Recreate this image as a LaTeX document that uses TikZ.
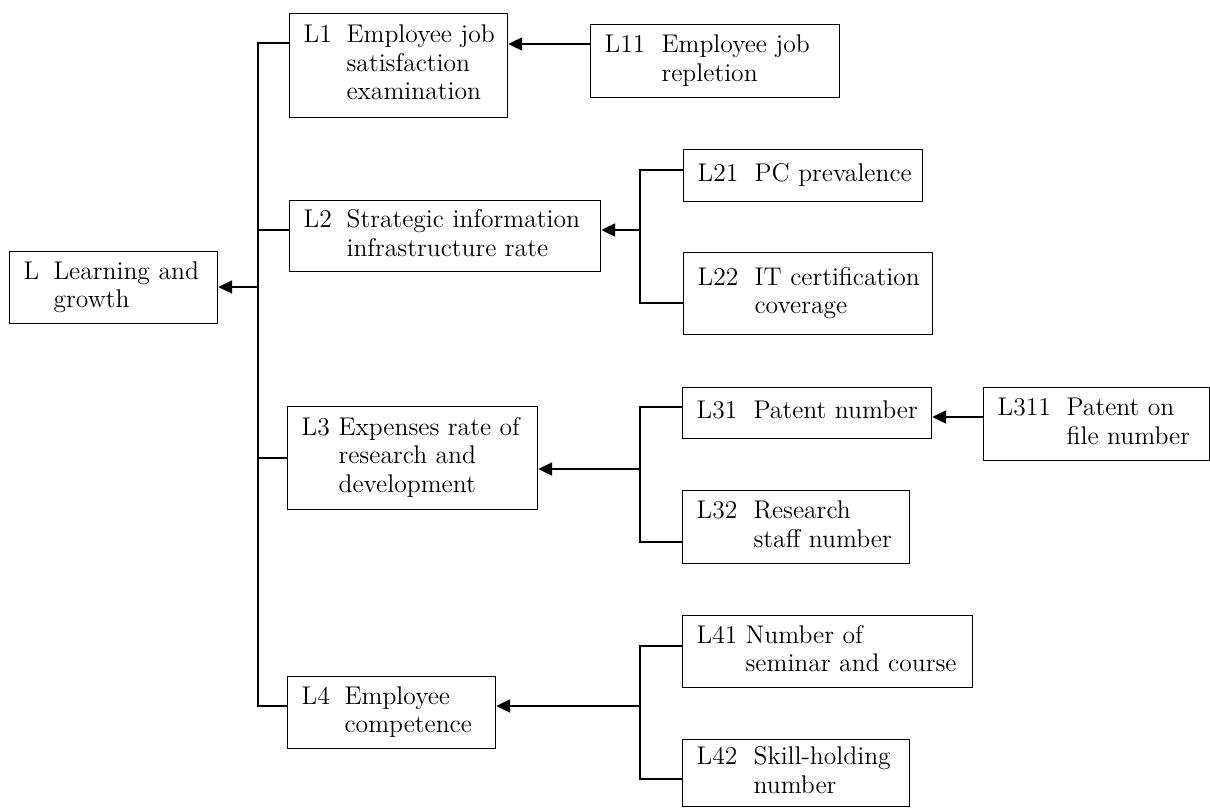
\documentclass[tikz,border=0pt]{standalone}
\usepackage{fontspec}
\usetikzlibrary{arrows.meta}

\tikzset{
  cellbox/.style={draw=black, line width=0.6pt, anchor=north west, align=left,
    inner xsep=7pt, inner ysep=2pt,
    font=\fontsize{12.8}{14.25}\selectfont},
  conn/.style={draw=black, line width=1.1pt},
  feed/.style={conn, -{Triangle[length=7pt,width=6.5pt]}},
}

\begin{document}
\begin{tikzpicture}[x=0.5pt, y=-0.5pt]
\useasboundingbox (0,0) rectangle (1210,808);

% indicator boxes
\node[cellbox, text width=90pt, minimum height=36pt] (L) at (9,251)
  {\begin{tabular}{@{}p{15pt}@{}l@{}}L & Learning and\\ & growth\end{tabular}};
\node[cellbox, text width=95pt, minimum height=52pt] (L1) at (289,13)
  {\begin{tabular}{@{}p{21.5pt}@{}l@{}}L1 & Employee job\\ & satisfaction\\ & examination\end{tabular}};
\node[cellbox, text width=110.5pt, minimum height=36.5pt] (L11) at (590,24)
  {\begin{tabular}{@{}p{28.5pt}@{}l@{}}L11 & Employee job\\ & repletion\end{tabular}};
\node[cellbox, text width=141.5pt, minimum height=35.5pt] (L2) at (289,200)
  {\begin{tabular}{@{}p{21.5pt}@{}l@{}}L2 & Strategic information\\ & infrastructure rate\end{tabular}};
\node[cellbox, text width=105.5pt, minimum height=26pt] (L21) at (683,149)
  {\begin{tabular}{@{}p{28.5pt}@{}l@{}}L21 & PC prevalence\end{tabular}};
\node[cellbox, text width=110.5pt, minimum height=41pt] (L22) at (683,252)
  {\begin{tabular}{@{}p{28.5pt}@{}l@{}}L22 & IT certification\\ & coverage\end{tabular}};
\node[cellbox, text width=111pt, minimum height=51.5pt] (L3) at (287,406)
  {\begin{tabular}{@{}p{18.5pt}@{}l@{}}L3 & Expenses rate of\\ & research and\\ & development\end{tabular}};
\node[cellbox, text width=110.5pt, minimum height=25.5pt] (L31) at (682,387)
  {\begin{tabular}{@{}p{28.5pt}@{}l@{}}L31 & Patent number\end{tabular}};
\node[cellbox, text width=99pt, minimum height=36.5pt] (L311) at (983,387)
  {\begin{tabular}{@{}p{34.5pt}@{}l@{}}L311 & Patent on\\ & file number\end{tabular}};
\node[cellbox, text width=99.5pt, minimum height=36.5pt] (L32) at (682,490)
  {\begin{tabular}{@{}p{28.5pt}@{}l@{}}L32 & Research\\ & staff number\end{tabular}};
\node[cellbox, text width=90pt, minimum height=36pt] (L4) at (287,676)
  {\begin{tabular}{@{}p{21.5pt}@{}l@{}}L4 & Employee\\ & competence\end{tabular}};
\node[cellbox, text width=131pt, minimum height=36pt] (L41) at (682,615)
  {\begin{tabular}{@{}p{24.5pt}@{}l@{}}L41 & Number of\\ & seminar and course\end{tabular}};
\node[cellbox, text width=99.5pt, minimum height=33.5pt] (L42) at (682,739)
  {\begin{tabular}{@{}p{28.5pt}@{}l@{}}L42 & Skill-holding\\ & number\end{tabular}};

% junction points of the bracket connectors
\coordinate (t1) at (258,43);
\coordinate (t2) at (258,230);
\coordinate (t3) at (258,458);
\coordinate (t4) at (258,706);
\coordinate (tL) at (258,287);
\coordinate (a1) at (560,44);
\coordinate (b1) at (640,170);
\coordinate (b0) at (640,230);
\coordinate (b2) at (640,303);
\coordinate (c1) at (640,407);
\coordinate (c0) at (640,469);
\coordinate (c2) at (640,542);
\coordinate (a3) at (960,417);
\coordinate (d1) at (640,646);
\coordinate (d0) at (640,706);
\coordinate (d2) at (640,779);

% main trunk
\draw[conn] (L1.west |- t1) -| (t4) -- (L4.west |- t4);
\draw[conn] (t2) -- (L2.west |- t2);
\draw[conn] (t3) -- (L3.west |- t3);
\draw[feed] (tL) -- (L.east |- tL);

% L1 group
\draw[feed] (L11.west |- a1) -- (L1.east |- a1);

% L2 group
\draw[conn] (L21.west |- b1) -| (b2) -- (L22.west |- b2);
\draw[feed] (b0) -- (L2.east |- b0);

% L3 group
\draw[conn] (L31.west |- c1) -| (c2) -- (L32.west |- c2);
\draw[feed] (c0) -- (L3.east |- c0);
\draw[feed] (L311.west |- a3) -- (L31.east |- a3);

% L4 group
\draw[conn] (L41.west |- d1) -| (d2) -- (L42.west |- d2);
\draw[feed] (d0) -- (L4.east |- d0);
\end{tikzpicture}
\end{document}
